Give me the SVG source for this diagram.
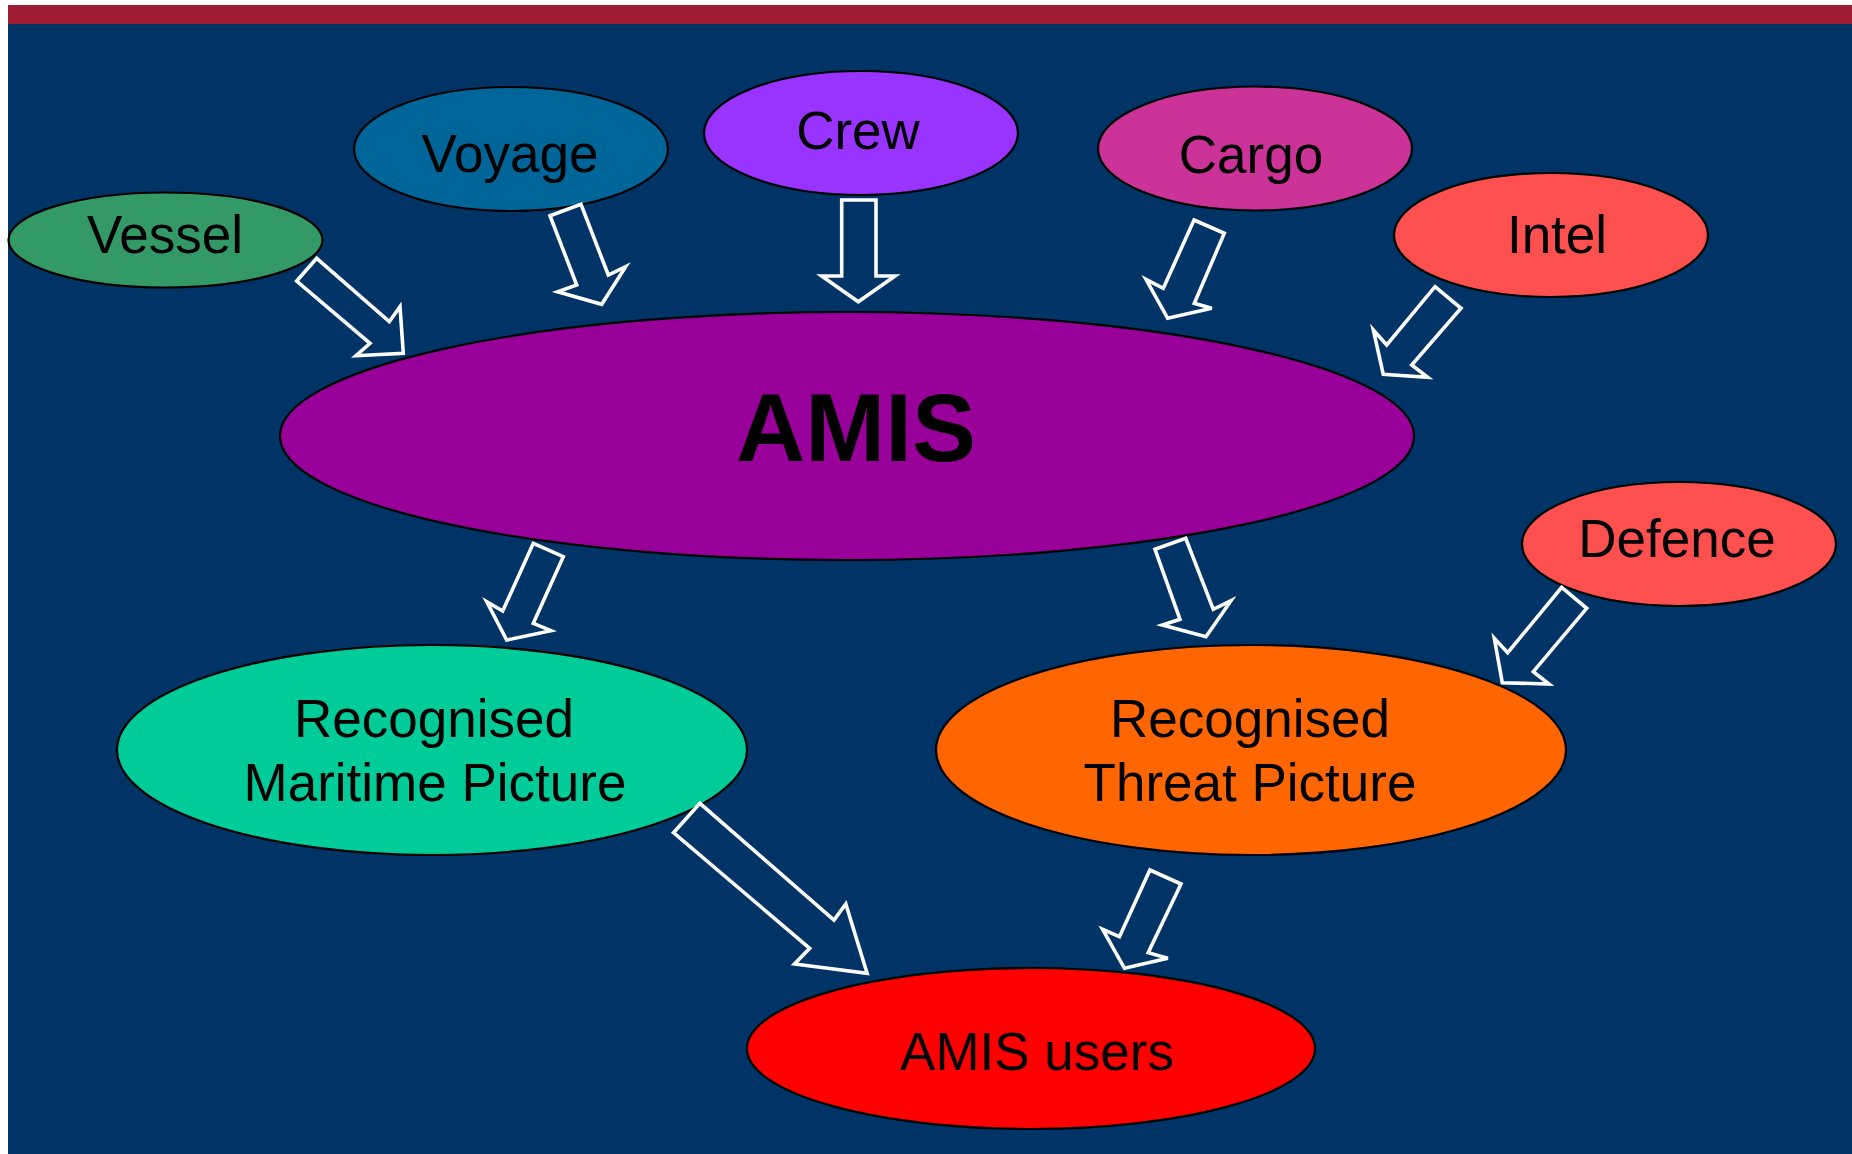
<svg xmlns="http://www.w3.org/2000/svg" width="1852" height="1154" viewBox="0 0 1852 1154">
<style>
.n{stroke:#000;stroke-width:2.2}
.t{font-family:"Liberation Sans",Arial,sans-serif;font-size:53px;fill:#000;text-anchor:middle}
.b{font-weight:bold;font-size:96px}
.a{fill:none;stroke:#fff;stroke-width:3.6;stroke-linejoin:miter}
</style>
<rect x="0" y="0" width="1852" height="1154" fill="#ffffff"/>
<rect x="8" y="5" width="1844" height="19" fill="#9E1B32"/>
<rect x="8" y="24" width="1844" height="1130" fill="#003366"/>
<g id="amis"><ellipse class="n" cx="847" cy="436" rx="567" ry="124" fill="#990099"/><text class="t b" x="856" y="461">AMIS</text></g>
<g id="vessel"><ellipse class="n" cx="165.5" cy="240" rx="157" ry="47.5" fill="#339966"/><text class="t" x="165" y="253">Vessel</text></g>
<g id="voyage"><ellipse class="n" cx="511" cy="149" rx="157" ry="62" fill="#006699"/><text class="t" x="510" y="172">Voyage</text></g>
<g id="crew"><ellipse class="n" cx="861" cy="133" rx="157" ry="62" fill="#9933FF"/><text class="t" x="858" y="149">Crew</text></g>
<g id="cargo"><ellipse class="n" cx="1255" cy="148.5" rx="157" ry="62" fill="#CC3399"/><text class="t" x="1251" y="173">Cargo</text></g>
<g id="intel"><ellipse class="n" cx="1551" cy="235" rx="157" ry="62" fill="#FF5050"/><text class="t" x="1557" y="253">Intel</text></g>
<g id="defence"><ellipse class="n" cx="1679" cy="544" rx="157" ry="62" fill="#FF5050"/><text class="t" x="1677" y="557">Defence</text></g>
<g id="rmp"><ellipse class="n" cx="432" cy="750" rx="315" ry="105" fill="#00CC99"/><text class="t" x="434" y="737">Recognised</text><text class="t" x="435" y="801">Maritime Picture</text></g>
<g id="rtp"><ellipse class="n" cx="1251" cy="750" rx="315" ry="105" fill="#FF6600"/><text class="t" x="1250" y="737">Recognised</text><text class="t" x="1250" y="801">Threat Picture</text></g>
<g id="users"><ellipse class="n" cx="1031" cy="1048.5" rx="284" ry="80.5" fill="#FF0000"/><text class="t" x="1037" y="1070">AMIS users</text></g>
<g id="connectors">
<polygon class="a" points="296.7,281 316.7,258.3 389.3,321.7 400,306.7 403.3,353.3 356,355.7 370,343.3"/>
<polygon class="a" points="550,215.7 581,204.3 608.3,275 625.7,266.7 601.7,304.3 557.7,291.7 576.7,285"/>
<polygon class="a" points="841.7,200 876,200 876,276 895,276 858.3,301.7 821.7,276 841.7,276"/>
<polygon class="a" points="1194,220 1224.3,233.3 1194.3,303.3 1211.7,308.3 1167.7,318.3 1146,279.3 1163.3,288.3"/>
<polygon class="a" points="1435,286.7 1461,308.3 1411.7,365 1427.7,377.3 1383.3,374.3 1373.3,330 1386.7,345"/>
<polygon class="a" points="1561.7,587.3 1586.7,608.3 1533.3,671.7 1549,684 1502.3,682.7 1494.3,638.3 1507.7,652.7"/>
<polygon class="a" points="533.3,543.3 563.3,556.7 533.3,623.3 551,630.7 506.7,640 486.7,601.7 502.7,611"/>
<polygon class="a" points="1155,549.3 1185.7,538.3 1213.3,609.3 1231,600.7 1206,636.7 1162.3,625 1180,619.3"/>
<polygon class="a" points="673.5,832.7 699.9,803.3 834,920 845.8,904 867.1,973.3 794.5,964 809.7,948.3"/>
<polygon class="a" points="1149.9,870 1181,884 1148.2,952.7 1167.8,958.3 1124.5,968.3 1102.6,929.3 1119.5,936.7"/>
</g>
</svg>
